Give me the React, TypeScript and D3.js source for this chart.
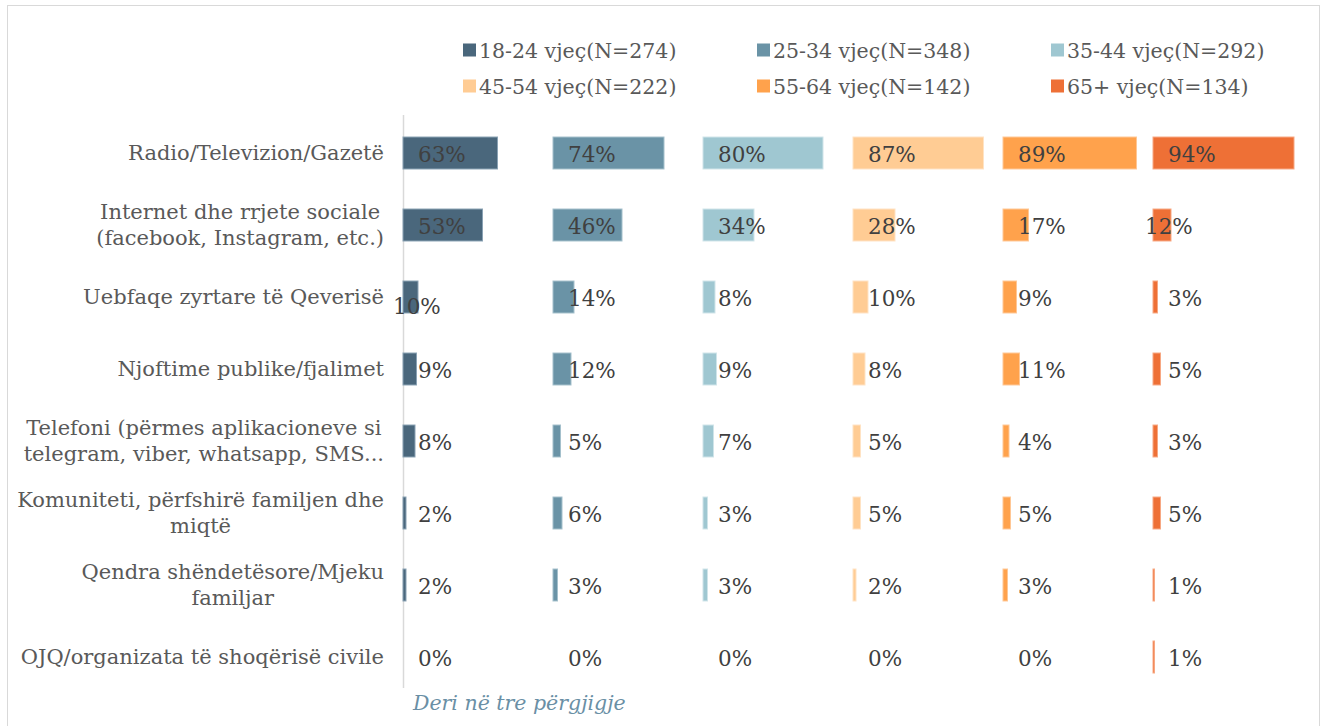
import React, { useEffect, useRef } from "react";
import * as d3 from "d3";

const categories = [
  ["Radio/Televizion/Gazetë"],
  ["Internet dhe rrjete sociale", "(facebook, Instagram, etc.)"],
  ["Uebfaqe zyrtare të Qeverisë"],
  ["Njoftime publike/fjalimet "],
  ["Telefoni (përmes aplikacioneve si", "telegram, viber, whatsapp, SMS..."],
  ["Komuniteti, përfshirë familjen dhe", "miqtë"],
  ["Qendra shëndetësore/Mjeku", "familjar"],
  ["OJQ/organizata të shoqërisë civile"],
];

const seriesNames = [
  "18-24 vjeç(N=274)",
  "25-34 vjeç(N=348)",
  "35-44 vjeç(N=292)",
  "45-54 vjeç(N=222)",
  "55-64 vjeç(N=142)",
  "65+ vjeç(N=134)",
];

const age18_24 = [63, 53, 10, 9, 8, 2, 2, 0];
const age25_34 = [74, 46, 14, 12, 5, 6, 3, 0];
const age35_44 = [80, 34, 8, 9, 7, 3, 3, 0];
const age45_54 = [87, 28, 10, 8, 5, 5, 2, 0];
const age55_64 = [89, 17, 9, 11, 4, 5, 3, 0];
const age65plus = [94, 12, 3, 5, 3, 5, 1, 1];

const seriesValues = [age18_24, age25_34, age35_44, age45_54, age55_64, age65plus];

const colors = ["#4a677c", "#6a93a6", "#9fc7d1", "#ffcc94", "#ffa24c", "#ee7036"];
const strokes = ["#8aa2b4", "#a4c0cc", "#cfe4e9", "#ffe3c4", "#ffc795", "#f7a883"];

const footnote = "Deri në tre përgjigje";

export default function App() {
  const ref = useRef<SVGSVGElement | null>(null);

  useEffect(() => {
    const svg = d3.select(ref.current);
    svg.selectAll("*").remove();
    const font = "DejaVu Serif";

    // frame
    svg.append("rect")
      .attr("x", 7.5).attr("y", 5.5).attr("width", 1312).attr("height", 740)
      .attr("fill", "#fff").attr("stroke", "#d9d9d9");

    const catKeys = categories.map((c, i) => String(i));
    const y = d3.scaleBand<string>().domain(catKeys).range([117, 693])
      .paddingInner(0.556).paddingOuter(0.278);
    const panel = d3.scaleBand<string>().domain(seriesNames).range([403, 1303]);
    const x = d3.scaleLinear().domain([0, 100]).range([0, panel.bandwidth()]);

    // axis line
    svg.append("line")
      .attr("x1", 403.5).attr("x2", 403.5).attr("y1", 115).attr("y2", 688)
      .attr("stroke", "#d9d9d9").attr("stroke-width", 1.5);

    // category labels
    const labelRight = 384;
    categories.forEach((lines, i) => {
      const cy = (y(String(i)) as number) + y.bandwidth() / 2;
      const g = svg.append("g");
      const texts = lines.map((ln, j) =>
        g.append("text")
          .attr("font-family", font).attr("font-size", 21).attr("fill", "#595959")
          .attr("y", cy + (j - (lines.length - 1) / 2) * 25.5)
          .attr("dominant-baseline", "central")
          .text(ln)
      );
      const widths = texts.map((t) => (t.node() as SVGTextElement).getComputedTextLength());
      const maxW = d3.max(widths) as number;
      const center = labelRight - maxW / 2;
      texts.forEach((t) => t.attr("x", center).attr("text-anchor", "middle"));
    });

    // bars
    const labelAdjust: Record<string, [number, number]> = { "0-2": [-25, 8], "5-1": [-23, 0] };
    seriesNames.forEach((s, si) => {
      const px = panel(s) as number;
      const vals = seriesValues[si];
      const g = svg.append("g");
      g.selectAll("rect").data(vals.map((v, i) => ({ v, i })).filter((d) => d.v > 0))
        .join("rect")
        .attr("x", px)
        .attr("y", (d) => y(String(d.i)) as number)
        .attr("width", (d) => x(d.v))
        .attr("height", y.bandwidth())
        .attr("fill", colors[si])
        .attr("stroke", strokes[si]).attr("stroke-width", 1);
      vals.forEach((v, i) => {
        const adj = labelAdjust[`${si}-${i}`] || [0, 0];
        g.append("text")
          .attr("x", px + 15 + adj[0])
          .attr("y", (y(String(i)) as number) + y.bandwidth() / 2 + 1 + adj[1])
          .attr("dominant-baseline", "central")
          .attr("font-family", font).attr("font-size", 21.5).attr("fill", "#404040")
          .text(`${v}%`);
      });
    });

    // legend
    const legendCols = d3.scaleOrdinal<number, number>().domain([0, 1, 2]).range([463, 757, 1051]);
    const legendRows = d3.scaleOrdinal<number, number>().domain([0, 1]).range([50, 86]);
    seriesNames.forEach((s, si) => {
      const lx = legendCols(si % 3);
      const ly = legendRows(Math.floor(si / 3));
      svg.append("rect").attr("x", lx).attr("y", ly - 6.5).attr("width", 13).attr("height", 13)
        .attr("fill", colors[si]);
      svg.append("text").attr("x", lx + 16).attr("y", ly + 1)
        .attr("dominant-baseline", "central")
        .attr("font-family", font).attr("font-size", 20.5).attr("fill", "#595959")
        .text(s);
    });

    svg.append("text").attr("x", 413).attr("y", 703)
      .attr("dominant-baseline", "central")
      .attr("font-family", font).attr("font-style", "italic").attr("font-size", 20.5)
      .attr("fill", "#6a8fa5").text(footnote);
  }, []);

  return (
    <svg
      ref={ref}
      width={1322}
      height={726}
      style={{ position: "absolute", left: 0, top: 0, display: "block" }}
    />
  );
}
